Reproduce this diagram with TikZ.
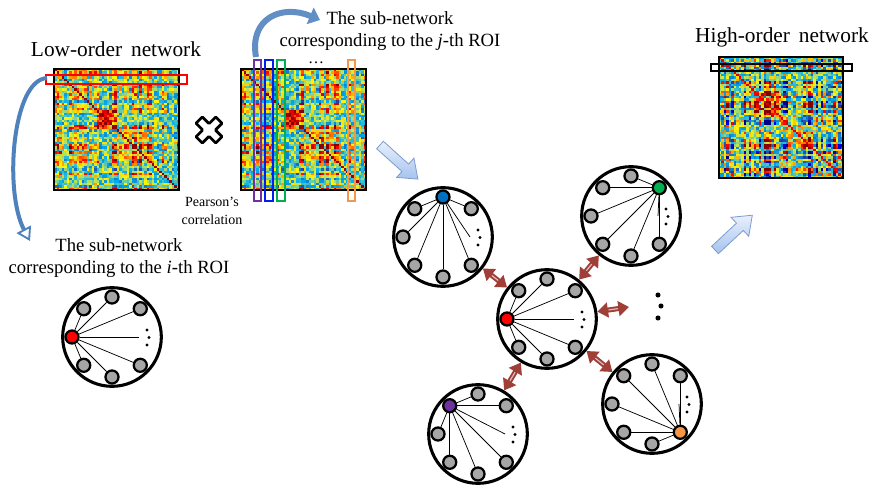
\documentclass[tikz,border=0pt]{standalone}
\usepackage{fontspec}
\setmainfont{Liberation Serif}
\usetikzlibrary{arrows.meta,calc}

\definecolor{arrowblue}{RGB}{79,129,189}
\definecolor{dred}{RGB}{160,62,56}
\definecolor{lgray}{RGB}{166,166,166}
\definecolor{npurple}{RGB}{112,48,160}
\definecolor{nblue}{RGB}{0,112,192}
\definecolor{ngreen}{RGB}{0,176,80}
\definecolor{norange}{RGB}{247,150,70}
\definecolor{cblue}{RGB}{0,32,240}
\definecolor{bafillA}{RGB}{232,240,252}
\definecolor{bafillB}{RGB}{165,195,238}
\definecolor{baline}{RGB}{125,155,205}

\tikzset{
  bigc/.style={circle, draw=black, line width=2.3pt, minimum size=74pt, inner sep=0pt, fill=white},
  grayn/.style={circle, draw=black, line width=1.7pt, fill=lgray, minimum size=9.8pt, inner sep=0pt},
  coln/.style={circle, draw=black, line width=1.7pt, minimum size=9.8pt, inner sep=0pt},
  spoke/.style={draw=black, line width=0.55pt},
  matframe/.style={draw=black, line width=0.9pt, inner sep=0pt, fill=none},
  dbl/.style={draw=dred, line width=3.8pt, {Triangle[length=8pt,width=11pt]}-{Triangle[length=8pt,width=11pt]}},
  dblin/.style={draw=white!65!dred, line width=0.9pt, shorten <=8.5pt, shorten >=8.5pt},
  barrow/.style={draw=baline, line width=0.6pt, top color=bafillA, bottom color=bafillB},
  ttl/.style={font=\fontsize{16}{19}\selectfont, inner sep=0pt},
  sub/.style={font=\fontsize{14}{16.5}\selectfont, align=center, inner sep=0pt},
  small/.style={font=\fontsize{10.5}{13.5}\selectfont, align=center, inner sep=0pt},
}

\newcommand\hmcolor[1]{%
  \ifnum#1<12 \edef\pp{\the\numexpr50+#1*4\relax}\colorlet{hmc}{blue!\pp!black}%
  \else\ifnum#1<37 \edef\pp{\the\numexpr(#1-12)*4\relax}\colorlet{hmc}{cyan!\pp!blue}%
  \else\ifnum#1<62 \edef\pp{\the\numexpr(#1-37)*4\relax}\colorlet{hmc}{yellow!\pp!cyan}%
  \else\ifnum#1<87 \edef\pp{\the\numexpr(#1-62)*4\relax}\colorlet{hmc}{red!\pp!yellow}%
  \else \edef\pp{\the\numexpr100-(#1-87)*4\relax}\colorlet{hmc}{red!\pp!black}%
  \fi\fi\fi\fi}

% #1 x0, #2 y0, #3 cw, #4 ch, #5 seed, #6 base, #7 row amp, #8 prod amp, #9 noise
\newcommand\heatmap[9]{%
  \pgfmathsetseed{#5}%
  \foreach \k in {0,...,\hmN}{\pgfmathsetmacro\t{rand}\expandafter\xdef\csname hr\k\endcsname{\t}}%
  \foreach \i in {0,...,\hmN}{%
    \edef\ri{\csname hr\i\endcsname}%
    \foreach \j in {0,...,\hmN}{%
      \edef\rj{\csname hr\j\endcsname}%
      \pgfmathsetmacro\v{#6+#7*((\ri)+(\rj))+#8*(\ri)*(\rj)+#9*rand}%
      \ifnum\i>\numexpr\bA-1\relax\ifnum\i<\numexpr\bB+1\relax\ifnum\j>\numexpr\bA-1\relax\ifnum\j<\numexpr\bB+1\relax
        \pgfmathsetmacro\v{\v+\bAmp}\fi\fi\fi\fi
      \ifnum\i>\numexpr\cA-1\relax\ifnum\i<\numexpr\cB+1\relax\ifnum\j>\numexpr\cA-1\relax\ifnum\j<\numexpr\cB+1\relax
        \pgfmathsetmacro\v{\v+\cAmp}\fi\fi\fi\fi
      \ifnum\i=\j \let\v\hmdiag\fi
      \pgfmathtruncatemacro\vi{max(0,min(99,\v))}%
      \hmcolor{\vi}%
      \fill[hmc] ({#1+\j*#3},{#2+\i*#4}) rectangle ++({#3+0.3},{#4+0.3});
    }}%
}

% #1 name, #2 centre, #3 angle of coloured node, #4 colour
\newcommand\egonet[4]{%
  \node[bigc] (#1) at (#2) {};
  \node[coln, fill=#4] (#1c) at ($(#1)+(#3:40)$) {};
  \foreach \a in {45,90,135,180,225,270,315}{%
    \ifnum\a=#3\relax\else
      \node[grayn] (#1g\a) at ($(#1)+(\a:40)$) {};
      \draw[spoke] (#1c) -- (#1g\a);
    \fi}%
  \coordinate (#1e) at ($(#1)+(27,0)$);
  \draw[spoke] (#1c) -- (#1e);
  \fill ($(#1)+(35,-7)$) circle (1.3pt) ($(#1)+(37,0.5)$) circle (1.3pt) ($(#1)+(35,8)$) circle (1.3pt);
}

\begin{document}
\begin{tikzpicture}[x=0.75pt,y=-0.75pt]
\useasboundingbox (0,0) rectangle (873,491);

% ---------- heat maps ----------
\def\hmN{49}
\def\hmdiag{97}
\def\bA{17}\def\bB{24}\def\bAmp{35}
\def\cA{25}\def\cB{36}\def\cAmp{12}
\heatmap{54}{69}{2.5}{2.42}{4242}{54}{12}{28}{18}
\heatmap{241}{69}{2.5}{2.42}{4242}{54}{12}{28}{18}
\def\hmdiag{90}
\def\bA{14}\def\bB{24}\def\bAmp{30}
\def\cA{27}\def\cB{37}\def\cAmp{10}
\heatmap{719}{57}{2.48}{2.42}{777}{50}{8}{55}{20}

\node[matframe, minimum width=93.75pt, minimum height=90.75pt] (m1) at (116.5,129.5) {};
\node[matframe, minimum width=93.75pt, minimum height=90.75pt] (m2) at (303.5,129.5) {};
\node[matframe, minimum width=93pt, minimum height=90.75pt] (m3) at (781,117.5) {};

% highlight rectangles
\draw[red, line width=1.5pt] (46,75) rectangle (187,84);
\draw[npurple, line width=1.5pt] (254,60) rectangle (261,201);
\draw[cblue, line width=1.5pt] (265,60) rectangle (273,201);
\draw[ngreen, line width=1.5pt] (277,60) rectangle (285,201);
\draw[norange, line width=1.5pt] (348,60) rectangle (355,201);
\draw[black, line width=1.5pt] (711,64) rectangle (852,71);

% ---------- texts ----------
\node[ttl] (tlow) at (116,49) {Low-order\, network};
\node[ttl] (thigh) at (782,37) {High-order\, network};
\node[sub] (tsubi) at (119,258) {The sub-network\\corresponding to the \textit{i}-th ROI};
\node[sub] (tsubj) at (390,31.5) {The sub-network\\corresponding to the \textit{j}-th ROI};
\node[small] (tpear) at (212,211) {Pearson’s\\correlation};
\node[font=\fontsize{12}{12}\selectfont, inner sep=0pt] (jdots) at (316,63) {…};

% multiplication cross
\draw[line width=2pt, fill=white, rounded corners=0.6pt, shift={(209,130)}, rotate=45]
  (-14,-4.5) -- (-4.5,-4.5) -- (-4.5,-14) -- (4.5,-14) -- (4.5,-4.5) -- (14,-4.5)
  -- (14,4.5) -- (4.5,4.5) -- (4.5,14) -- (-4.5,14) -- (-4.5,4.5) -- (-14,4.5) -- cycle;

% curved blue arrows
\coordinate (lcs) at (47,78);
\coordinate (lce) at (30,241);
\draw[arrowblue, line width=3pt, -{Triangle[open, length=10pt, width=12pt, fill=white, line width=1.4pt]}]
  (lcs) .. controls (12,80) and (4,192) .. (lce);
\coordinate (tcs) at (256,57);
\coordinate (tce) at (320,20);
\draw[arrowblue!90, line width=4.5pt, -{Triangle[length=8pt, width=13pt]}]
  (tcs) .. controls (249,18) and (282,4) .. (tce);

% block arrows
\begin{scope}[shift={(380,145)}, rotate=-42]
  \path[barrow] (0,-5) -- (34,-5) -- (34,-13) -- (51,0) -- (34,13) -- (34,5) -- (0,5) -- cycle;
\end{scope}
\begin{scope}[shift={(715,250)}, rotate=43]
  \path[barrow] (0,-5) -- (34,-5) -- (34,-13) -- (51,0) -- (34,13) -- (34,5) -- (0,5) -- cycle;
\end{scope}

% ---------- ego networks ----------
\egonet{ci}{112,337}{180}{red}
\egonet{cb}{443,237}{270}{nblue}
\egonet{cr}{547,319}{180}{red}
\egonet{cg}{631,216}{315}{ngreen}
\egonet{cp}{478,434}{225}{npurple}
\egonet{co}{652,404}{45}{norange}

% double arrows
\coordinate (rend) at (629,307);
\foreach \o in {cb,cg,cp,co}{
  \draw[dbl] (cr) -- (\o);
  \draw[dblin] (cr) -- (\o);
}
\draw[dbl] (cr) -- (rend);
\draw[dblin] (cr) -- (rend);

% big vertical dots
\fill (658,295) circle (1.9pt) (661,306) circle (1.9pt) (658,318) circle (1.9pt);
\end{tikzpicture}
\end{document}
